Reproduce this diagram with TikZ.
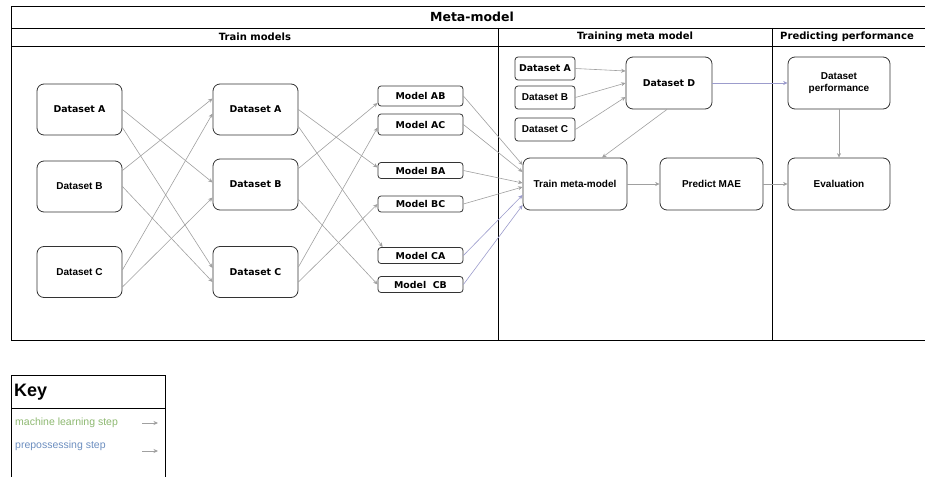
\documentclass[tikz,border=0pt]{standalone}
\usepackage{fontspec}
\setmainfont{Liberation Sans}
\newfontfamily\dejavu{DejaVu Sans}
\usetikzlibrary{arrows.meta}
\definecolor{boxgray}{HTML}{333333}
\definecolor{linegray}{HTML}{A0A0A0}
\definecolor{lineblue}{HTML}{9C9CCC}
\definecolor{keygreen}{HTML}{8DB870}
\definecolor{keyblue}{HTML}{6C8EBF}

\begin{document}
\begin{tikzpicture}[x=1pt, y=-1pt,
    bigbox/.style={draw=boxgray, line width=0.8pt, rounded corners=7pt, minimum width=85pt, minimum height=51pt, inner sep=0pt, align=center},
    smallbox/.style={draw=boxgray, line width=0.8pt, rounded corners=3pt, minimum width=85pt, minimum height=16pt, inner sep=0pt},
    dv/.style={font=\dejavu\bfseries\fontsize{9.4}{11}\selectfont},
    ar/.style={font=\bfseries\fontsize{10}{12}\selectfont},
    flow/.style={->, draw=linegray, line width=0.6pt},
    >={Stealth[length=4.5pt, width=4pt]}]
    \useasboundingbox (0,0) rectangle (925,476);
    \clip (0,0) rectangle (925,476);

    % Draw frame
    \draw[line width=0.8pt] (11,6) rectangle (936,340);
    \draw[line width=0.8pt] (11,28) -- (936,28);
    \draw[line width=0.8pt] (11,46) -- (936,46);
    \draw[line width=0.8pt] (498,28) -- (498,340);
    \draw[line width=0.8pt] (772,28) -- (772,340);

    \node[font=\dejavu\bfseries\fontsize{12.5}{14}\selectfont] (title) at (472,17) {Meta-model};
    \node[dv, font=\dejavu\bfseries\fontsize{10}{11}\selectfont] (htrain) at (255,37) {Train models};
    \node[dv, font=\dejavu\bfseries\fontsize{10}{11}\selectfont] (hmeta) at (635,37) {Training meta model};
    \node[dv, font=\dejavu\bfseries\fontsize{10}{11}\selectfont] (hpred) at (847,37) {Predicting performance};

    % Datasets
    \node[bigbox, dv] (la) at (79.5,109.5) {Dataset A};
    \node[bigbox, ar] (lb) at (79.5,186.5) {Dataset B};
    \node[bigbox, ar] (lc) at (79.5,272) {Dataset C};
    \node[bigbox, dv] (ma) at (255.5,109.5) {Dataset A};
    \node[bigbox, dv] (mb) at (255.5,184.5) {Dataset B};
    \node[bigbox, dv] (mc) at (255.5,272) {Dataset C};

    % Models
    \node[smallbox, dv, minimum height=20pt] (mab) at (420.5,96) {Model AB};
    \node[smallbox, dv, minimum height=21pt] (mac) at (420.5,124.5) {Model AC};
    \node[smallbox, dv] (mba) at (420.5,170.5) {Model BA};
    \node[smallbox, dv] (mbc) at (420.5,204) {Model BC};
    \node[smallbox, dv] (mca) at (420.5,255.5) {Model CA};
    \node[smallbox, dv] (mcb) at (420.5,284.5) {Model~ CB};

    \draw[flow] (la.east) -- ([yshift=2pt]mb.west);
    \draw[flow] ([yshift=-18pt]la.east) -- ([yshift=4pt]mc.west);
    \draw[flow] ([yshift=16pt]lb.east) -- ([yshift=11pt]ma.west);
    \draw[flow] (lb.east) -- ([yshift=-10pt]mc.west);
    \draw[flow] ([yshift=2pt]lc.east) -- ([yshift=-4pt]ma.west);
    \draw[flow] ([yshift=-15pt]lc.east) -- ([yshift=-13pt]mb.west);

    \draw[flow] (ma.east) -- ([yshift=3pt]mba.west);
    \draw[flow] ([yshift=-17pt]ma.east) -- ([xshift=5pt]mca.north west);
    \draw[flow] ([yshift=16pt]mb.east) -- ([yshift=-7pt]mab.west);
    \draw[flow] ([yshift=-15pt]mb.east) -- (mcb.west);
    \draw[flow] ([yshift=5pt]mc.east) -- ([yshift=-3pt]mac.west);
    \draw[flow] ([yshift=-10pt]mc.east) -- (mbc.west);

    % Meta model
    \node[smallbox, dv, minimum width=60pt, minimum height=23pt] (sa) at (545,68.5) {Dataset A};
    \node[smallbox, ar, minimum width=60pt, minimum height=23pt] (sb) at (545,97.5) {Dataset B};
    \node[smallbox, ar, minimum width=60pt, minimum height=23pt] (sc) at (545,129.5) {Dataset C};
    \node[bigbox, dv, minimum width=86pt, minimum height=52pt] (dd) at (669,83) {Dataset D};
    \node[bigbox, ar, minimum width=104pt, minimum height=52pt] (tm) at (575,184) {Train meta-model};
    \node[bigbox, ar, minimum width=103pt, minimum height=52pt] (pm) at (711.5,184) {Predict MAE};
    \node[bigbox, ar, minimum width=102pt, minimum height=52pt] (dp) at (839,83) {Dataset\\performance};
    \node[bigbox, ar, minimum width=102pt, minimum height=52pt] (ev) at (839,184) {Evaluation};

    \draw[flow] (mab.east) -- ([yshift=19pt]tm.west);
    \draw[flow] (mac.east) -- ([yshift=12pt]tm.west);
    \draw[flow] (mba.east) -- ([yshift=1pt]tm.west);
    \draw[flow] (mbc.east) -- ([yshift=-3pt]tm.west);
    \draw[flow, draw=lineblue] (mca.east) -- ([yshift=-11pt]tm.west);
    \draw[flow, draw=lineblue] (mcb.east) -- ([yshift=-21pt]tm.west);

    \draw[flow] (sa.east) -- ([yshift=12pt]dd.west);
    \draw[flow] (sb.east) -- (dd.west);
    \draw[flow] (sc.east) -- ([yshift=-14pt]dd.west);
    \draw[flow] ([xshift=-2pt]dd.south) -- ([xshift=27pt]tm.north);
    \draw[flow] (tm.east) -- (pm.west);
    \draw[flow, draw=lineblue] (dd.east) -- (dp.west);
    \draw[flow] (pm.east) -- (ev.west);
    \draw[flow] (dp.south) -- (ev.north);

    % Key
    \draw[line width=0.8pt] (11,375) rectangle (165,490);
    \draw[line width=0.8pt] (11,408) -- (165,408);
    \node[anchor=west, inner sep=0pt, font=\bfseries\fontsize{18}{20}\selectfont] (key) at (14,392) {Key};
    \node[anchor=west, inner sep=0pt, text=keygreen, font=\fontsize{10.5}{12}\selectfont] (kml) at (15,423) {machine learning step};
    \node[anchor=west, inner sep=0pt, text=keyblue, font=\fontsize{10.5}{12}\selectfont] (kpre) at (15,446) {prepossessing step};
    \coordinate (k1a) at (142,423);
    \coordinate (k1b) at (158,423);
    \coordinate (k2a) at (142,451);
    \coordinate (k2b) at (158,451);
    \draw[flow] (k1a) -- (k1b);
    \draw[flow] (k2a) -- (k2b);

\end{tikzpicture}
\end{document}
